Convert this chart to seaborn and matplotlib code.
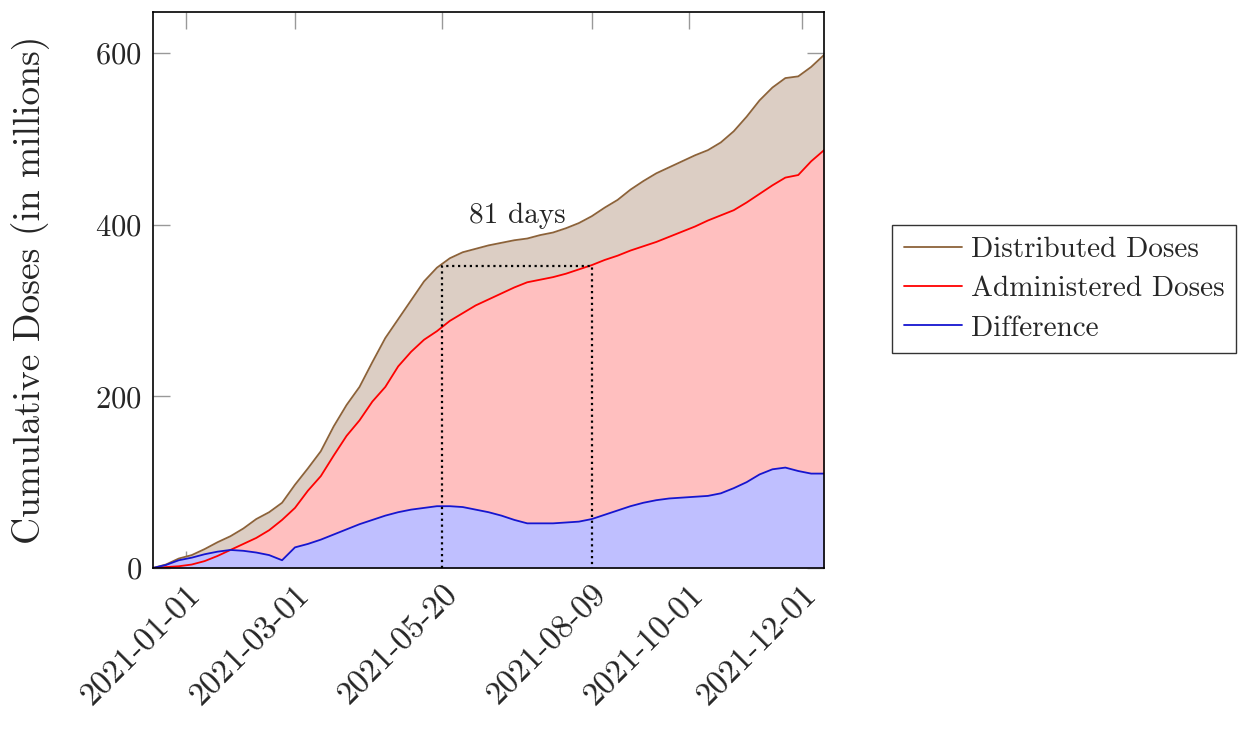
import matplotlib
matplotlib.use("Agg")
import matplotlib.pyplot as plt
import matplotlib.transforms as mtransforms
import pandas as pd
import seaborn as sns

# weekly samples, values in millions of doses
dates = pd.date_range("2020-12-14", "2021-12-13", freq="7D")
distributed = [0, 4, 11, 15, 22, 30, 37, 46, 57, 65, 76, 97, 116, 136, 165,
               190, 211, 240, 268, 290, 312, 334, 350, 361, 368, 372, 376,
               379, 382, 384, 388, 391, 396, 402, 410, 420, 429, 441, 451,
               460, 467, 474, 481, 487, 496, 509, 526, 545, 560, 571, 573,
               584, 598]
administered = [0, 1, 2, 4, 8, 14, 21, 28, 35, 44, 56, 70, 90, 107, 131,
                154, 172, 194, 211, 235, 252, 266, 276, 288, 297, 306, 313,
                320, 327, 333, 336, 339, 343, 348, 353, 359, 364, 370, 375,
                380, 386, 392, 398, 405, 411, 417, 426, 436, 446, 455, 458,
                474, 487]
difference = [0, 3.5, 9, 12, 16, 19, 21, 20, 18, 15, 9, 24, 28, 33, 39, 45,
              51, 56, 61, 65, 68, 70, 72, 72, 71, 68, 65, 61, 56, 52, 52, 52,
              53, 54, 57, 62, 67, 72, 76, 79, 81, 82, 83, 84, 87, 93, 100,
              109, 115, 117, 113, 110, 110]

tick_dates = ["2021-01-01", "2021-03-01", "2021-05-20", "2021-08-09",
              "2021-10-01", "2021-12-01"]
y_ticks = [0, 200, 400, 600]
gap_start, gap_end, gap_level = "2021-05-20", "2021-08-09", 352
gap_label = "81 days"

df = pd.DataFrame({"date": dates, "Distributed Doses": distributed,
                   "Administered Doses": administered,
                   "Difference": difference})

sns.set_theme(style="ticks")
plt.rcParams["font.family"] = ["cmr10", "DejaVu Serif"]
plt.rcParams["mathtext.fontset"] = "cm"
plt.rcParams["axes.formatter.use_mathtext"] = True

series = [("Distributed Doses", "#8C6239", "#DCCEC4"),
          ("Administered Doses", "#FF0000", "#FFBFBF"),
          ("Difference", "#1515D0", "#BFBFFF")]

fig = plt.figure(figsize=(12.39, 7.29), dpi=100)
ax = fig.add_axes([0.1235, 0.2209, 0.5416, 0.7626])
for name, line_c, fill_c in series:
    ax.fill_between(df["date"], 0, df[name], color=fill_c, lw=0)
    sns.lineplot(data=df, x="date", y=name, color=line_c, lw=1.3,
                 label=name, ax=ax, legend=False)

g0, g1 = pd.Timestamp(gap_start), pd.Timestamp(gap_end)
ax.plot([g0, g0, g1, g1], [0, gap_level, gap_level, 0], ls=":", color="black",
        lw=1.6)
ax.text(g0 + (g1 - g0) / 2, 411, gap_label, ha="center", va="center",
        fontsize=21)

ax.set_xlim(dates[0], dates[-1])
ax.set_ylim(0, 648)
ax.set_yticks(y_ticks)
ax.set_xticks(pd.to_datetime(tick_dates))
ax.set_xticklabels(tick_dates, rotation=45, ha="right", va="center",
                   rotation_mode="anchor")
ax.tick_params(direction="in", length=12, width=1, color="#999999",
               top=True, right=True, labelsize=22, pad=8)
ax.tick_params(axis="x", pad=16, labelsize=24)
shift = mtransforms.ScaledTranslation(10 / 100, 0, fig.dpi_scale_trans)
for lab in ax.get_xticklabels():
    lab.set_transform(lab.get_transform() + shift)
ax.set_xlabel("")
ax.set_ylabel("Cumulative Doses (in millions)", fontsize=27)
ax.yaxis.set_label_coords(-0.153, 0.5)
for s in ax.spines.values():
    s.set_color("black")
    s.set_linewidth(1.2)

handles, labels = ax.get_legend_handles_labels()
leg = fig.legend(handles, labels, loc="upper left",
                 bbox_to_anchor=(892 / 1239, 1 - 225 / 729), fontsize=21,
                 frameon=True, fancybox=False, edgecolor="black",
                 handlelength=2.0, handletextpad=0.3, borderaxespad=0,
                 labelspacing=0.44, borderpad=0.4)
leg.get_frame().set_linewidth(1.0)

fig.savefig("out.png", dpi=100)
